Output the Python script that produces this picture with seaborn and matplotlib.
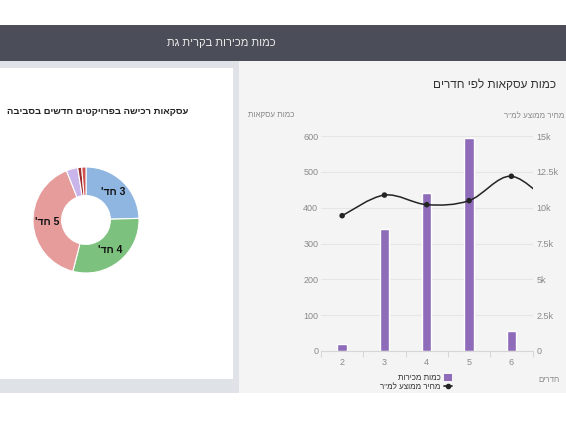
"""
Sales dashboard for Kiryat Gat: deals by rooms + purchase share donut.
"""
import numpy as np
import seaborn as sns
import matplotlib.pyplot as plt
from matplotlib.patches import Rectangle, Patch, PathPatch
from matplotlib.lines import Line2D
from matplotlib.path import Path

# ---- data (Hebrew stored in logical order) ----
header_title = "כמות מכירות בקרית גת"
bar_title = "כמות עסקאות לפי חדרים"
donut_title = "עסקאות רכישה בפרויקטים חדשים בסביבה"
left_axis_label = "כמות עסקאות"
right_axis_label = 'מחיר ממוצע למ"ר'
x_axis_label = "חדרים"
bar_series_name = "כמות מכירות"
line_series_name = 'מחיר ממוצע למ"ר'

rooms = ["2", "3", "4", "5", "6"]
deals = [20, 340, 442, 595, 55]
# average price per sqm; the last value (7 rooms) lies outside the visible range
price_per_sqm = [9440, 10880, 10210, 10490, 12190, 10000]
left_ticks = [0, 100, 200, 300, 400, 500, 600]
right_ticks = [0, 2500, 5000, 7500, 10000, 12500, 15000]
right_tick_labels = ["0", "2.5k", "5k", "7.5k", "10k", "12.5k", "15k"]

donut_labels = ["3 חד'", "4 חד'", "5 חד'", "", "", ""]
donut_share = [24.5, 29.5, 40.0, 3.5, 1.2, 1.3]
donut_colors = ["#8fb6e1", "#7cc27e", "#e59c9b", "#c9b5ea", "#9b2a2a", "#cf524e"]

BAR_COLOR = "#8e6cb9"
LINE_COLOR = "#232323"
W, H = 566, 425


def rtl(s):
    return s[::-1]


def fx(x):
    return x / W


def fy(y):
    return 1 - y / H


def px_rect(fig, x0, y0, x1, y1, color):
    fig.add_artist(Rectangle((fx(x0), fy(y1)), (x1 - x0) / W, (y1 - y0) / H,
                             transform=fig.transFigure, facecolor=color,
                             edgecolor="none", zorder=-5))


def smooth_path(xs, ys):
    # Catmull-Rom curve through the points, as cubic bezier segments
    pts = np.column_stack([xs, ys]).astype(float)
    verts = [pts[0]]
    codes = [Path.MOVETO]
    n = len(pts)
    for i in range(n - 1):
        p0 = pts[i - 1] if i > 0 else pts[i]
        p1, p2 = pts[i], pts[i + 1]
        p3 = pts[i + 2] if i + 2 < n else pts[i + 1]
        verts += [p1 + (p2 - p0) / 6, p2 - (p3 - p1) / 6, p2]
        codes += [Path.CURVE4] * 3
    return Path(verts, codes)


def vis():
    sns.set_theme(style="white")
    plt.rcParams["font.family"] = ["Liberation Sans", "DejaVu Sans"]

    fig = plt.figure(figsize=(W / 100, H / 100), dpi=100, facecolor="white")

    # page background blocks
    px_rect(fig, 0, 25, W, 61, "#4b4e58")
    px_rect(fig, 0, 61, 239, 393, "#dfe3e8")
    px_rect(fig, 0, 68, 233, 379, "#ffffff")
    px_rect(fig, 239, 61, W, 393, "#f4f4f4")

    fig.text(fx(221), fy(43), rtl(header_title), color="#ececec", fontsize=8,
             ha="center", va="center")

    # ---- bar + line chart ----
    ax = fig.add_axes([fx(321), fy(351), (532.5 - 321) / W, (351 - 136) / H])
    ax.set_facecolor("none")
    sns.barplot(x=rooms, y=deals, color=BAR_COLOR, saturation=1, width=0.22,
                ax=ax, zorder=2)
    ax.set_ylim(0, 600)
    ax.set_xlim(-0.5, len(rooms) - 0.5)
    ax.set_yticks(left_ticks)
    ax.grid(axis="y", color="#e6e6e6", lw=0.8, zorder=0)
    ax.set_axisbelow(True)
    for s in ["top", "left", "right"]:
        ax.spines[s].set_visible(False)
    ax.spines["bottom"].set_color("#d6d6d6")
    ax.spines["bottom"].set_linewidth(0.8)
    ax.set_xlabel("")
    ax.set_ylabel("")
    ax.tick_params(axis="y", length=0, pad=2, labelsize=6.5, labelcolor="#8a8a8a")
    ax.set_xticks(np.arange(len(rooms)))
    ax.set_xticks(np.arange(len(rooms) + 1) - 0.5, minor=True)
    ax.tick_params(axis="x", which="major", length=0, pad=5, labelsize=6.5,
                   labelcolor="#8a8a8a")
    ax.tick_params(axis="x", which="minor", length=4, width=0.7, color="#d6d6d6",
                   bottom=True)

    ax2 = ax.twinx()
    ax2.set_ylim(0, 15000)
    ax2.set_yticks(right_ticks)
    ax2.set_yticklabels(right_tick_labels)
    ax2.tick_params(axis="y", length=0, pad=3, labelsize=6.5, labelcolor="#8a8a8a")
    for s in ax2.spines.values():
        s.set_visible(False)
    xpos = np.arange(len(price_per_sqm))
    ax2.add_patch(PathPatch(smooth_path(xpos, price_per_sqm), facecolor="none",
                            edgecolor=LINE_COLOR, lw=1.1, zorder=3))
    sns.scatterplot(x=xpos, y=price_per_sqm, color=LINE_COLOR, s=16,
                    edgecolor="none", ax=ax2, zorder=4)
    ax2.set_xlim(-0.5, len(rooms) - 0.5)
    ax2.set_ylabel("")

    fig.text(fx(556), fy(85), rtl(bar_title), color="#333333", fontsize=8.5,
             ha="right", va="center")
    fig.text(fx(294), fy(116), rtl(left_axis_label), color="#8a8a8a",
             fontsize=5.8, ha="right", va="center")
    fig.text(fx(564), fy(116), rtl(right_axis_label), color="#8a8a8a",
             fontsize=5.8, ha="right", va="center")
    fig.text(fx(560), fy(380), rtl(x_axis_label), color="#8a8a8a",
             fontsize=5.8, ha="right", va="center")

    handles = [Patch(facecolor=BAR_COLOR, edgecolor="none"),
               Line2D([], [], color=LINE_COLOR, lw=1.2, marker="o", markersize=3)]
    fig.legend(handles, [rtl(bar_series_name), rtl(line_series_name)],
               loc="upper right", bbox_to_anchor=(fx(452), fy(374)),
               markerfirst=False, frameon=False, fontsize=5.8,
               handlelength=1.0, handleheight=0.9, handletextpad=0.4,
               labelspacing=0.15, borderpad=0, borderaxespad=0,
               labelcolor="#333333")

    # ---- donut chart ----
    fig.text(fx(188), fy(112), rtl(donut_title), color="#222222", fontsize=6.8,
             fontweight="bold", ha="right", va="center")
    R = 53
    dax = fig.add_axes([fx(86 - R), fy(220 + R), 2 * R / W, 2 * R / H])
    dax.pie(donut_share, colors=donut_colors, startangle=90, counterclock=False,
            radius=1, wedgeprops=dict(width=0.54, edgecolor="#ffffff", lw=0.8),
            labels=[rtl(t) for t in donut_labels], labeldistance=0.73,
            textprops=dict(fontsize=7.5, fontweight="bold", color="#111111",
                           ha="center", va="center"))
    dax.set_xlim(-1, 1)
    dax.set_ylim(-1, 1)
    dax.set_aspect("equal")
    dax.axis("off")

    fig.savefig("out.png", dpi=100, facecolor="white")


if __name__ == "__main__":
    vis()
